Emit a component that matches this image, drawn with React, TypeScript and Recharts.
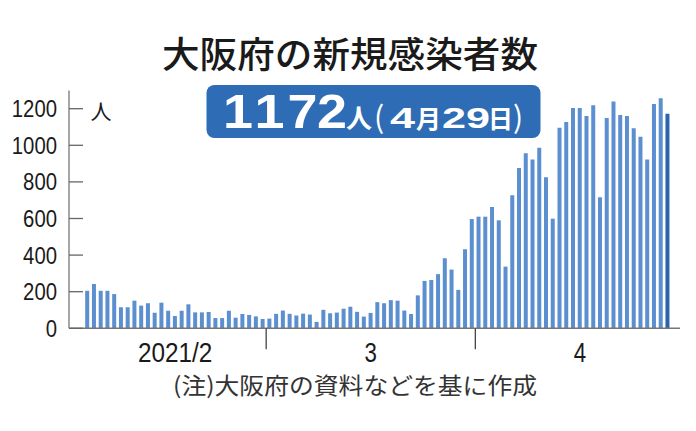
import { Bar, BarChart, Cell, XAxis, YAxis } from "recharts";

// daily new cases in Osaka (Feb 2 – Apr 29, 2021)
const febCases = [205, 242, 205, 205, 187, 115, 115, 151, 124, 137, 85, 140, 96, 67, 96, 131, 87, 87, 89, 56, 56, 96, 58, 78, 73, 65, 51];
const marCases = [53, 79, 97, 79, 70, 80, 75, 35, 101, 82, 86, 107, 118, 90, 64, 84, 143, 137, 154, 151, 97, 78, 180, 259, 264, 296, 383, 321, 210, 432, 597];
const aprCases = [610, 610, 663, 590, 337, 727, 876, 956, 923, 987, 825, 599, 1096, 1127, 1204, 1204, 1160, 1219, 716, 1149, 1239, 1166, 1160, 1093, 1047, 922, 1226, 1257, 1172];

const yTicks = [0, 200, 400, 600, 800, 1000, 1200];
const monthStarts = ["3/1", "4/1"];
const monthLabels: Record<string, string> = { "2/15": "2021/2", "3/16": "3", "4/16": "4" };

const data = [
    ...febCases.map((v, i) => ({ date: `2/${i + 2}`, cases: v })),
    ...marCases.map((v, i) => ({ date: `3/${i + 1}`, cases: v })),
    ...aprCases.map((v, i) => ({ date: `4/${i + 1}`, cases: v })),
];

const latest = data[data.length - 1];
const numFont = "'Liberation Sans', Arial, sans-serif";
const jpFont = "'Noto Sans CJK JP', 'Noto Sans', sans-serif";

// centres of the big headline digits inside the badge
const bigDigitX = [238, 269.5, 302.5, 332];

function MonthTick(props: any) {
    const { x, y, payload } = props;
    const v = payload.value;
    if (monthStarts.includes(v)) {
        const half = payload.offset ?? 3.4;
        return <line x1={x - half} x2={x - half} y1={y} y2={y + 21} stroke="#444" strokeWidth={1.3} />;
    }
    const label = monthLabels[v];
    if (!label) return <g />;
    return (
        <text x={x} y={y + 34} textAnchor="middle" fontFamily={numFont} fontSize={28} fill="#1a1a1a"
            textLength={label.length * 12.4} lengthAdjust="spacingAndGlyphs">
            {label}
        </text>
    );
}

function CountTick(props: any) {
    const { x, y, payload } = props;
    const label = String(payload.value);
    return (
        <g>
            <line x1={x} x2={x + 14} y1={y} y2={y} stroke="#666" strokeWidth={1.3} />
            <text x={x - 12} y={y} dy={8.5} textAnchor="end" fontFamily={numFont} fontSize={24} fill="#1a1a1a"
                textLength={label.length * 11.3} lengthAdjust="spacingAndGlyphs">
                {label}
            </text>
        </g>
    );
}

function App() {
    return (
        <div style={{ position: "absolute", left: 0, top: 0, width: 696, height: 431, background: "#fff", overflow: "hidden" }}>
            <BarChart width={696} height={431} data={data} barCategoryGap={1.2}
                margin={{ top: 90.4, right: 16, left: 0, bottom: 62.7 }}>
                <XAxis dataKey="date" height={40} interval={0} ticks={["2/15", "3/1", "3/16", "4/1", "4/16"]}
                    tick={<MonthTick />} tickLine={false} tickSize={0} tickMargin={0}
                    axisLine={{ stroke: "#777", strokeWidth: 1.5 }} padding={{ left: 15, right: 9 }} />
                <YAxis width={69} domain={[0, 1300]} ticks={yTicks} interval={0}
                    tick={<CountTick />} tickLine={false} tickSize={0} tickMargin={0}
                    axisLine={{ stroke: "#888", strokeWidth: 1.5 }} />
                <Bar dataKey="cases" isAnimationActive={false}>
                    {data.map((d) => (
                        <Cell key={d.date} fill={d === latest ? "#2a63ae" : "#5b8fd0"} />
                    ))}
                </Bar>
            </BarChart>
            <svg width={696} height={431} style={{ position: "absolute", left: 0, top: 0, pointerEvents: "none" }}>
                <text x={350} y={52} textAnchor="middle" dominantBaseline="central" fontFamily={jpFont}
                    fontSize={36} fontWeight={500} fill="#1a1a1a" textLength={376} lengthAdjust="spacingAndGlyphs">
                    大阪府の新規感染者数
                </text>
                <rect x={206.5} y={85} width={334} height={53} rx={8} fill="#2e6cb5" />
                {String(latest.cases).split("").map((c, i) => (
                    <text key={i} x={bigDigitX[i]} y={128.3} textAnchor="middle" fontFamily={numFont} fontSize={48}
                        fontWeight={700} fill="#fff" textLength={30} lengthAdjust="spacingAndGlyphs">{c}</text>
                ))}
                <text x={346} y={128.3} fontFamily={jpFont} fontSize={26} fontWeight={700} fill="#fff">人</text>
                <text x={374} y={128} fontFamily={jpFont} fontSize={30} fontWeight={400} fill="#fff">(</text>
                <text x={390} y={128.3} fontFamily={numFont} fontSize={30} fontWeight={700} fill="#fff"
                    textLength={25} lengthAdjust="spacingAndGlyphs">4</text>
                <text x={416} y={128.3} fontFamily={jpFont} fontSize={25} fontWeight={700} fill="#fff">月</text>
                <text x={442} y={128.3} fontFamily={numFont} fontSize={30} fontWeight={700} fill="#fff"
                    textLength={48} lengthAdjust="spacingAndGlyphs">29</text>
                <text x={488} y={128.3} fontFamily={jpFont} fontSize={25} fontWeight={700} fill="#fff">日</text>
                <text x={513} y={128} fontFamily={jpFont} fontSize={30} fontWeight={400} fill="#fff">)</text>
                <text x={101} y={110} textAnchor="middle" dominantBaseline="central" fontFamily={jpFont}
                    fontSize={21} fill="#1a1a1a">人</text>
                <text x={355} y={384} textAnchor="middle" dominantBaseline="central" fontFamily={jpFont}
                    fontSize={23} fill="#333" textLength={364} lengthAdjust="spacingAndGlyphs">
                    (注)大阪府の資料などを基に作成
                </text>
            </svg>
        </div>
    );
}

export default App;
